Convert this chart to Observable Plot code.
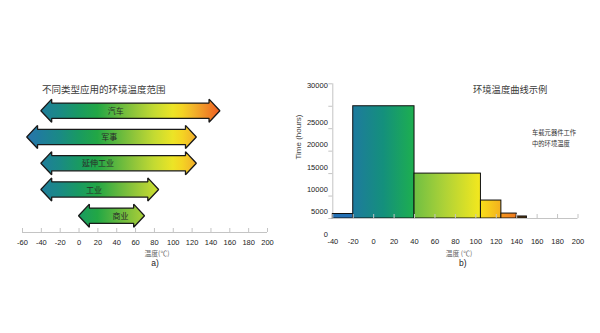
<!DOCTYPE html>
<html><head><meta charset="utf-8">
<script src="https://cdn.jsdelivr.net/npm/d3@7"></script>
<script src="https://cdn.jsdelivr.net/npm/@observablehq/plot@0.6"></script>
<style>
body{margin:0;background:#fff;}
#wrap{position:relative;width:600px;height:333px;overflow:hidden;background:#fff;}
.abs{position:absolute;white-space:nowrap;line-height:1;}
svg{position:absolute;top:0;}
</style></head><body><div id="wrap"></div>
<script>
// ---- data: panel a) application temperature ranges ----
const appCategories = ["汽车", "军事", "延伸工业", "工业", "商业"];
const appMin = [-40, -55, -40, -40, 0];
const appMax = [150, 125, 125, 85, 70];
const appLabelAt = [39, 32, 20, 16, 44];
const tempTicksA = [-60, -40, -20, 0, 20, 40, 60, 80, 100, 120, 140, 160, 180, 200];

// ---- data: panel b) temperature profile histogram ----
const binStart = [-40, -20, 40, 105, 125, 140];
const binEnd = [-20, 40, 105, 125, 140, 150];
const hours = [1000, 25000, 10000, 4000, 1100, 450];
const tempTicksB = [-40, -20, 0, 20, 40, 60, 80, 100, 120, 140, 160, 180, 200];
const hourTicks = [0, 5000, 10000, 15000, 20000, 25000, 30000];

// colour ramps (temperature -> colour)
const rampA = [[-60,"#2c6fb0"],[-55,"#2a74ad"],[-40,"#1f7d9c"],[-20,"#1a8a85"],[0,"#199a62"],[20,"#22a745"],[40,"#5cb63f"],[60,"#92c63a"],[80,"#c3da32"],[100,"#ece426"],[110,"#f4d423"],[122,"#f2b42a"],[138,"#f08426"],[150,"#ee5b24"],[200,"#ee5b24"]];
const rampB = [[-40,"#2470b5"],[-20,"#2470b5"],[-20,"#1e7a9e"],[10,"#14907c"],[40,"#1daf4f"],[40,"#6fbf43"],[70,"#aed237"],[105,"#f4e81e"],[105,"#f8df1a"],[125,"#f4b01e"],[125,"#f3961c"],[140,"#ee7a1f"],[140,"#5a3a10"],[200,"#5a3a10"]];

const wrap = document.getElementById("wrap");
const tickColor = "#c4c4c4";
const labelColor = "#222";

function gradientMark(id, stops, t0, t1) {
  return (index, scales) => {
    const x = scales.x;
    const defs = d3.create("svg:defs");
    const lg = defs.append("linearGradient").attr("id", id)
      .attr("gradientUnits", "userSpaceOnUse")
      .attr("x1", x(t0)).attr("x2", x(t1)).attr("y1", 0).attr("y2", 0);
    for (const [t, c] of stops) lg.append("stop").attr("offset", (t - t0) / (t1 - t0)).attr("stop-color", c);
    return defs.node();
  };
}

// ---- panel a ----
const headLen = 11.5, shaftH = 0.29, headH = 0.44;
const arrowPts = appCategories.flatMap((c, i) => {
  const a = appMin[i], b = appMax[i];
  return [[a, 0], [a + headLen, headH], [a + headLen, shaftH], [b - headLen, shaftH], [b - headLen, headH], [b, 0]]
    .map(([t, h]) => ({cat: c, t, lo: i - h, hi: i + h}));
});
const appData = appCategories.map((c, i) => ({cat: c, row: i, at: appLabelAt[i]}));
const yDomA = [4.62, -0.5];

const left = Plot.plot({
  width: 300, height: 333,
  marginLeft: 22, marginRight: 33, marginTop: 97.6, marginBottom: 101,
  style: {fontFamily: "'Liberation Sans', Arial, sans-serif", fontSize: "7.5px", color: labelColor, background: "transparent"},
  x: {domain: [-60, 200], axis: null},
  y: {domain: yDomA, axis: null},
  marks: [
    gradientMark("gradA", rampA, -60, 200),
    Plot.ruleY([yDomA[0]], {stroke: tickColor, strokeWidth: 1}),
    Plot.axisX(tempTicksA, {tickSize: 4, dy: -4, stroke: tickColor, tickFormat: () => "", label: null}),
    Plot.axisX(tempTicksA, {tickSize: 0, tickPadding: 7, tickFormat: d => String(d), fill: labelColor, label: null}),
    Plot.area(arrowPts, {x1: "t", y1: "lo", y2: "hi", z: "cat", fill: "url(#gradA)", stroke: "#1a1a1a", strokeWidth: 1.3, strokeLinejoin: "miter"}),
    Plot.text(appData, {x: "at", y: "row", text: "cat", fontSize: 8, fill: "#2a2a2a", fontFamily: "'Noto Sans CJK SC', sans-serif"})
  ]
});
left.style.left = "0px";
wrap.append(left);

// ---- panel b ----
const bins = binStart.map((s, i) => ({s, e: binEnd[i], h: hours[i]}));
const right = Plot.plot({
  width: 315, height: 333,
  marginLeft: 47.3, marginRight: 22.5, marginTop: 83.3, marginBottom: 115,
  style: {fontFamily: "'Liberation Sans', Arial, sans-serif", fontSize: "7.5px", color: labelColor, background: "transparent"},
  x: {domain: [-40, 200], axis: null},
  y: {domain: [0, 30000], axis: null},
  marks: [
    gradientMark("gradB", rampB, -40, 200),
    Plot.ruleX([-40], {stroke: tickColor, strokeWidth: 1}),
    Plot.axisY(hourTicks, {tickSize: 4, stroke: tickColor, tickFormat: () => "", label: null}),
    Plot.axisY([30000], {tickSize: 0, tickPadding: 5, dy: 2, tickFormat: d => String(d), fill: labelColor, label: null}),
    Plot.axisY(hourTicks.slice(0, 6), {tickSize: 0, tickPadding: 5, dy: 16, tickFormat: d => String(d), fill: labelColor, label: null}),
    Plot.rect(bins, {x1: "s", x2: "e", y1: () => 0, y2: "h", fill: "url(#gradB)", stroke: "#111", strokeWidth: 1}),
    Plot.ruleY([0], {stroke: tickColor, strokeWidth: 1}),
    Plot.axisX(tempTicksB, {tickSize: 4, dy: -4, stroke: tickColor, tickFormat: () => "", label: null}),
    Plot.axisX(tempTicksB, {tickSize: 0, tickPadding: 20, tickFormat: d => String(d), fill: labelColor, label: null})
  ]
});
right.style.left = "285px";
wrap.append(right);

// ---- titles and captions ----
function addText(txt, x, y, style, anchor) {
  const d = document.createElement("div");
  d.className = "abs";
  d.textContent = txt;
  const tx = anchor === "start" ? "0" : "-50%";
  Object.assign(d.style, {left: x + "px", top: y + "px", transform: `translate(${tx},-50%)`, color: labelColor}, style);
  wrap.append(d);
  return d;
}
const cjk = "'Noto Sans CJK SC', sans-serif";
addText("不同类型应用的环境温度范围", 42, 89.5, {fontFamily: cjk, fontSize: "9.5px", color: "#3a3a3a"}, "start");
addText("温度(℃)", 157, 253, {fontFamily: cjk, fontSize: "6.8px", color: "#666"});
addText("a)", 155, 263, {fontFamily: "'Liberation Sans', Arial, sans-serif", fontSize: "8.5px", color: "#222"});
addText("环境温度曲线示例", 473, 89.5, {fontFamily: cjk, fontSize: "9.3px", color: "#3a3a3a"}, "start");
addText("车载元器件工作", 532, 132.5, {fontFamily: cjk, fontSize: "6.3px", color: "#333"}, "start");
addText("中的环境温度", 532, 143.5, {fontFamily: cjk, fontSize: "6.3px", color: "#333"}, "start");
addText("温度 (℃)", 459, 253, {fontFamily: cjk, fontSize: "6.8px", color: "#666"});
addText("b)", 462.7, 263, {fontFamily: "'Liberation Sans', Arial, sans-serif", fontSize: "8.5px", color: "#222"});
const yl = addText("Time (hours)", 298.5, 137, {fontFamily: "'Liberation Sans', Arial, sans-serif", fontSize: "8px", color: "#444"});
yl.style.transform = "translate(-50%,-50%) rotate(-90deg)";
</script>
</body></html>
